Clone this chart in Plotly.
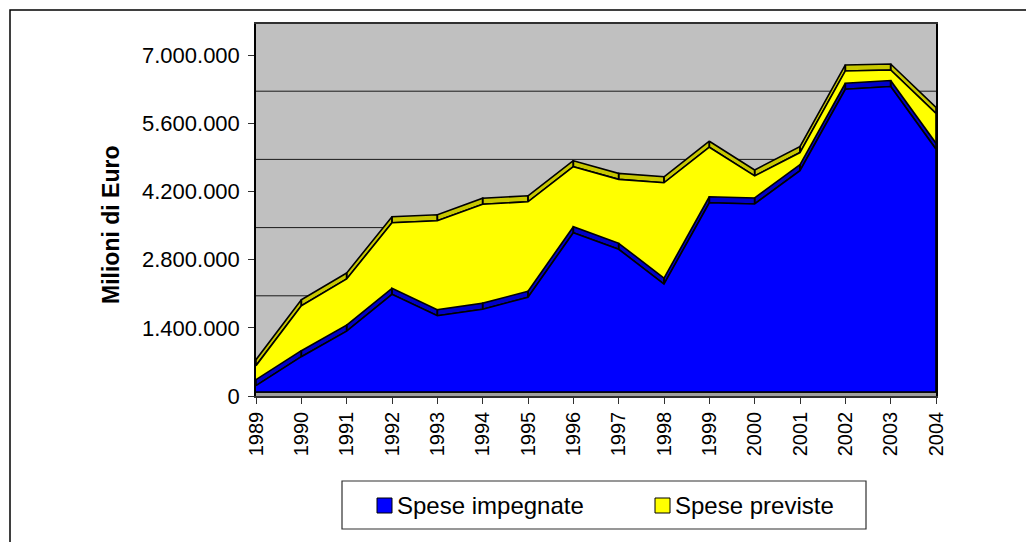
import plotly.graph_objects as go

# ---------------- data ----------------
years = list(range(1989, 2005))
spese_impegnate = [130000, 725000, 1250000, 2005000, 1565000, 1700000, 1945000, 3270000,
                   2930000, 2215000, 3885000, 3860000, 4545000, 6215000, 6270000, 4985000]
spese_previste = [410000, 1045000, 1070000, 1470000, 1950000, 2155000, 1960000, 1355000,
                  1435000, 2080000, 1140000, 575000, 370000, 375000, 340000, 735000]
y_tick_values = [0, 1400000, 2800000, 4200000, 5600000, 7000000]
series_names = ["Spese impegnate", "Spese previste"]
axis_title = "Milioni di Euro"

# ---------------- geometry / style ----------------
OFF = 8                                   # page body margin of the browser
W, H = 1034 - OFF, 542 - OFF
PL, PR, PT, PB = 256 - OFF, 936 - OFF, 24 - OFF, 396 - OFF   # plot area in pixels
PX_PER_UNIT = 341 / 7000000
YTOP = (PB - PT) / PX_PER_UNIT
BASE = 4 / PX_PER_UNIT      # series front face lifted above the front axis
DEPTH = 6 / PX_PER_UNIT     # visible top face of the 3D slab
WALL = 32 / PX_PER_UNIT     # back wall offset (grid lines)

FONT = "Liberation Sans, Arial, sans-serif"
BLUE, BLUE_TOP = "#0000FF", "#0000C8"
YELLOW, YELLOW_TOP = "#FFFF00", "#C8C800"


def px(x):
    return (x - OFF - PL) / (PR - PL)


def py(y):
    return (PB - (y - OFF)) / (PB - PT)


totals = [a + b for a, b in zip(spese_impegnate, spese_previste)]


def band(vals):
    xs, ys = [], []
    for i in range(len(years) - 1):
        x0, x1 = years[i], years[i + 1]
        v0, v1 = vals[i] + BASE, vals[i + 1] + BASE
        xs += [x0, x1, x1, x0, x0, None]
        ys += [v0, v1, v1 + DEPTH, v0 + DEPTH, v0, None]
    return xs, ys


def face(vals):
    xs = years + years[::-1]
    ys = [v + BASE for v in vals] + [BASE] * len(years)
    return xs, ys


fig = go.Figure()
line = dict(color="black", width=1.6)

bx, byv = band(totals)
fig.add_trace(go.Scatter(x=bx, y=byv, mode="lines", fill="toself", fillcolor=YELLOW_TOP,
                         line=line, hoverinfo="skip", showlegend=False))
fx, fy = face(totals)
fig.add_trace(go.Scatter(x=fx, y=fy, mode="lines", fill="toself", fillcolor=YELLOW,
                         line=line, name=series_names[1], showlegend=False))
bx, byv = band(spese_impegnate)
fig.add_trace(go.Scatter(x=bx, y=byv, mode="lines", fill="toself", fillcolor=BLUE_TOP,
                         line=line, hoverinfo="skip", showlegend=False))
fx, fy = face(spese_impegnate)
fig.add_trace(go.Scatter(x=fx, y=fy, mode="lines", fill="toself", fillcolor=BLUE,
                         line=line, name=series_names[0], showlegend=False))

shapes = []
# back-wall grid lines
for v in y_tick_values:
    if v + WALL < YTOP:
        shapes.append(dict(type="line", xref="paper", yref="y", x0=0, x1=1,
                           y0=v + WALL, y1=v + WALL, layer="below",
                           line=dict(color="#1a1a1a", width=1)))
# floor strip
shapes.append(dict(type="rect", xref="paper", yref="y", x0=0, x1=1, y0=0, y1=BASE,
                   fillcolor="#A0A0A0", line=dict(width=0), layer="below"))
# outer chart frame
shapes.append(dict(type="rect", xref="paper", yref="paper", x0=px(10), x1=px(1060),
                   y0=py(570), y1=py(10), line=dict(color="black", width=1.5)))
# legend box + swatches
shapes.append(dict(type="rect", xref="paper", yref="paper", x0=px(342), x1=px(866),
                   y0=py(529), y1=py(481), line=dict(color="#303030", width=1.2),
                   fillcolor="white"))
legend_items = [(377, 395, BLUE, series_names[0]), (655, 673, YELLOW, series_names[1])]
annotations = []
for sx, tx, col, name in legend_items:
    shapes.append(dict(type="rect", xref="paper", yref="paper", x0=px(sx), x1=px(sx + 15),
                       y0=py(513), y1=py(498), fillcolor=col,
                       line=dict(color="black", width=1)))
    annotations.append(dict(xref="paper", yref="paper", x=px(tx), y=py(505.5), text=name,
                            showarrow=False, xanchor="left", yanchor="middle",
                            font=dict(family=FONT, size=24, color="black")))

annotations.append(dict(xref="paper", yref="paper", x=px(111), y=py(225),
                        text="<b>" + axis_title + "</b>", textangle=-90, showarrow=False,
                        xanchor="center", yanchor="middle",
                        font=dict(family=FONT, size=23, color="black")))

fig.update_layout(
    width=W, height=H,
    margin=dict(l=PL, r=W - PR, t=PT, b=H - PB, pad=0),
    paper_bgcolor="white", plot_bgcolor="#C0C0C0",
    showlegend=False,
    shapes=shapes, annotations=annotations,
    xaxis=dict(range=[years[0], years[-1]], tickvals=years, ticktext=[str(y) for y in years],
               tickangle=-90, ticks="outside", ticklen=6, tickcolor="#303030",
               showline=True, linecolor="#303030", linewidth=1.5, mirror=True,
               showgrid=False, zeroline=False,
               tickfont=dict(family=FONT, size=20, color="black")),
    yaxis=dict(range=[0, YTOP], tickvals=y_tick_values,
               ticktext=[f"{v:,}".replace(",", ".") for v in y_tick_values],
               ticks="outside", ticklen=6, tickcolor="#303030",
               showline=True, linecolor="black", linewidth=1.5, mirror=True,
               showgrid=False, zeroline=False, ticklabelstandoff=4,
               tickfont=dict(family=FONT, size=22, color="black")),
)

fig.write_html("out.html")
